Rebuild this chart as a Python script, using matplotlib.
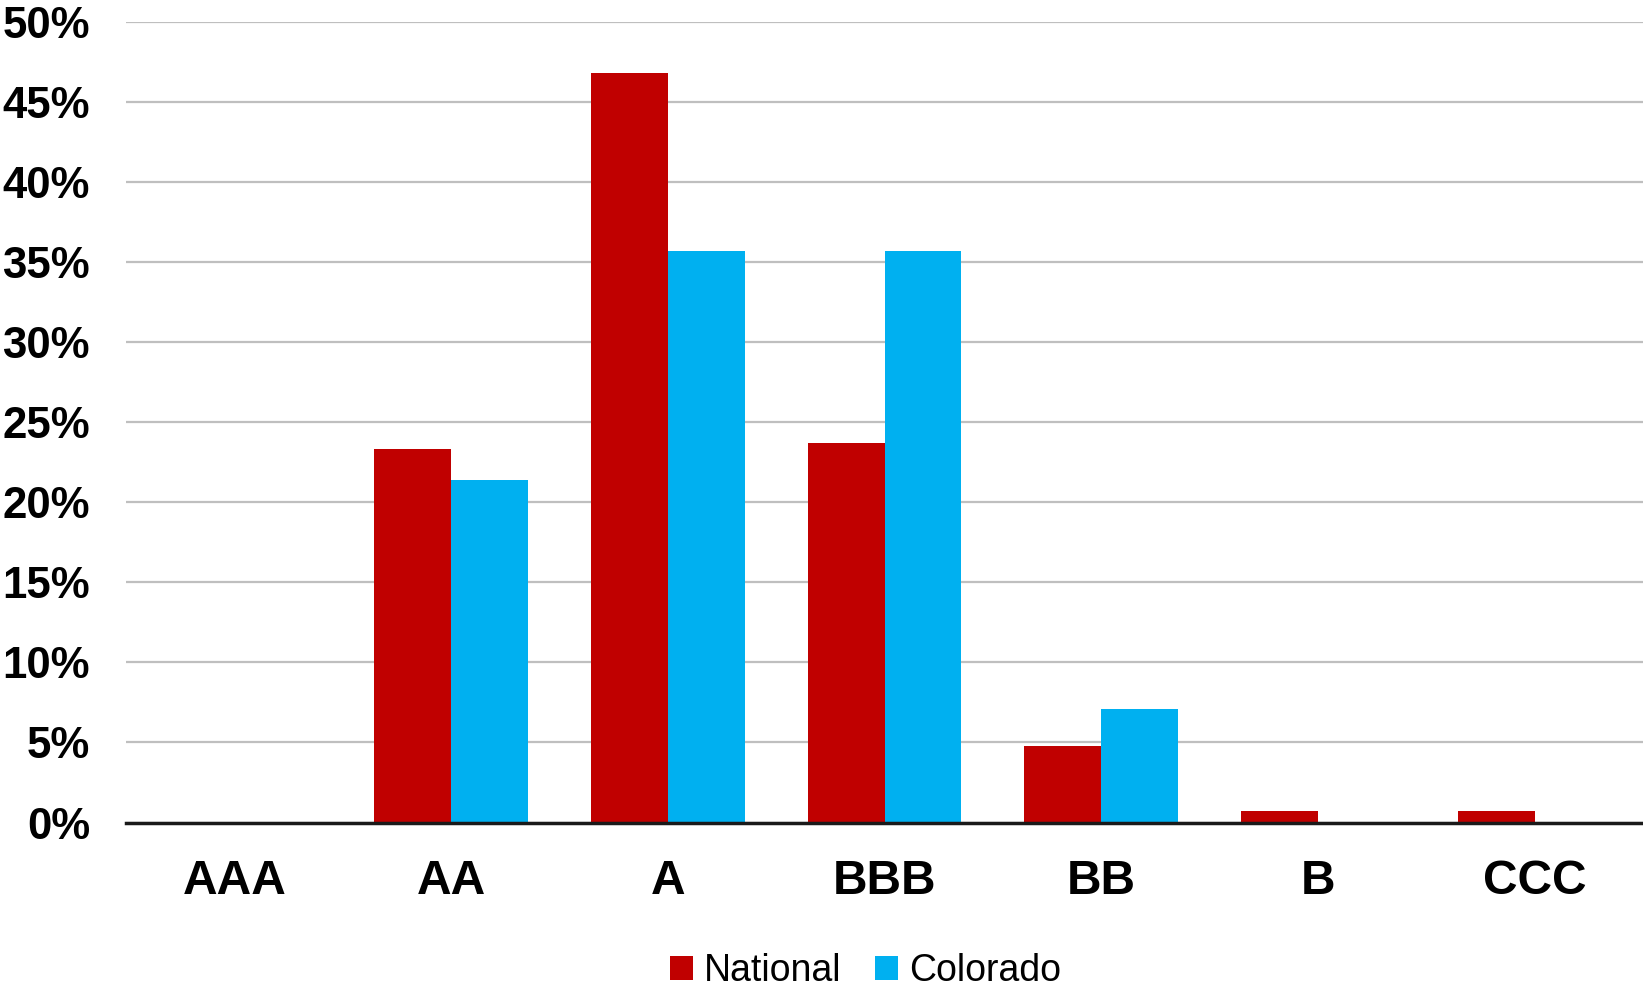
import numpy as np
import matplotlib.pyplot as plt
from matplotlib.ticker import PercentFormatter

categories = ['AAA', 'AA', 'A', 'BBB', 'BB', 'B', 'CCC']
national = [0.0, 23.3, 46.8, 23.7, 4.8, 0.7, 0.7]
colorado = [0.0, 21.4, 35.7, 35.7, 7.1, 0.0, 0.0]

plt.rcParams['font.family'] = ['Liberation Sans', 'DejaVu Sans']

fig = plt.figure(figsize=(16.43, 9.88), dpi=100)
ax = fig.add_axes([0.0767, 0.1675, 0.9233, 0.8103])

x = np.arange(len(categories))
w = 0.355
ax.bar(x - w / 2, national, w, color='#C00000', label='National', zorder=3)
ax.bar(x + w / 2, colorado, w, color='#00B0F0', label='Colorado', zorder=3)

ax.set_xlim(-0.5, len(categories) - 0.5)
ax.set_ylim(0, 50)
ax.set_yticks(np.arange(0, 51, 5))
ax.yaxis.set_major_formatter(PercentFormatter(decimals=0))
ax.set_xticks(x)
ax.set_xticklabels(categories)

ax.grid(axis='y', color='#BFBFBF', linewidth=1.6, zorder=0)
ax.set_axisbelow(True)
for s in ['top', 'right', 'left']:
    ax.spines[s].set_visible(False)
ax.spines['bottom'].set_color('#1a1a1a')
ax.spines['bottom'].set_linewidth(2.5)
ax.spines['bottom'].set_zorder(4)

ax.tick_params(axis='y', length=0, pad=26, labelsize=31.5)
ax.tick_params(axis='x', length=0, pad=26, labelsize=34.5)
for lbl in ax.get_yticklabels() + ax.get_xticklabels():
    lbl.set_fontweight('bold')

fig.legend(loc='center', bbox_to_anchor=(0.527, 0.017), ncol=2, frameon=False,
           fontsize=27, handlelength=0.6, handleheight=0.6, handletextpad=0.3,
           columnspacing=0.9)

fig.savefig('out.png', dpi=100)
